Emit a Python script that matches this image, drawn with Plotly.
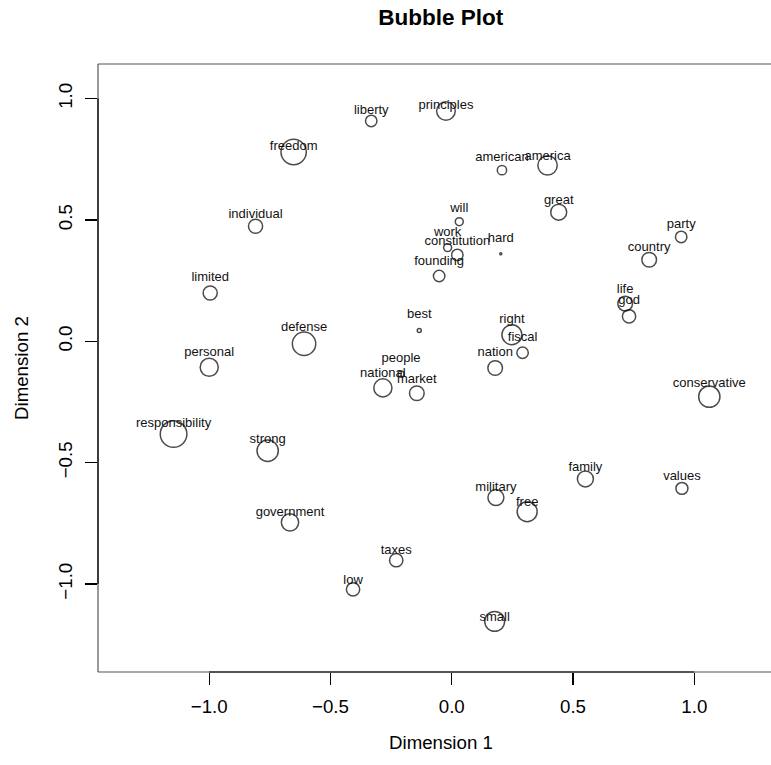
import plotly.graph_objects as go

words = ["liberty", "freedom", "individual", "limited", "defense", "personal", "best",
         "principles", "american", "america", "great", "will", "work", "constitution",
         "hard", "founding", "party", "country", "life", "god", "right", "fiscal",
         "nation", "national", "people", "market", "responsibility", "strong",
         "government", "taxes", "low", "conservative", "family", "values", "military",
         "free", "small"]

dim1 = [-0.332, -0.652, -0.809, -0.996, -0.609, -1.000, -0.134,
        -0.024, 0.207, 0.395, 0.441, 0.031, -0.017, 0.023,
        0.202, -0.052, 0.946, 0.814, 0.715, 0.731, 0.248, 0.292,
        0.179, -0.284, -0.209, -0.144, -1.147, -0.759,
        -0.667, -0.229, -0.407, 1.062, 0.551, 0.949, 0.182,
        0.311, 0.177]

dim2 = [0.908, 0.780, 0.474, 0.199, -0.010, -0.107, 0.045,
        0.949, 0.705, 0.725, 0.532, 0.493, 0.386, 0.356,
        0.361, 0.269, 0.430, 0.336, 0.155, 0.103, 0.027, -0.047,
        -0.110, -0.192, -0.135, -0.214, -0.382, -0.451,
        -0.746, -0.902, -1.022, -0.228, -0.567, -0.606, -0.644,
        -0.702, -1.154]

# label anchor heights (Dimension 2 units)
label_dim2 = [0.949, 0.801, 0.522, 0.261, 0.056, -0.047, 0.110,
              0.972, 0.756, 0.759, 0.578, 0.545, 0.446, 0.412,
              0.422, 0.326, 0.482, 0.387, 0.213, 0.166, 0.089, 0.014,
              -0.047, -0.135, -0.073, -0.158, -0.338, -0.407,
              -0.707, -0.864, -0.986, -0.173, -0.521, -0.558, -0.603,
              -0.667, -1.139]

# relative bubble radius (largest = 1)
rel_radius = [0.43, 0.95, 0.53, 0.53, 0.88, 0.68, 0.15,
              0.70, 0.35, 0.73, 0.60, 0.30, 0.30, 0.43,
              0.08, 0.43, 0.43, 0.55, 0.55, 0.50, 0.75, 0.43,
              0.55, 0.68, 0.23, 0.55, 1.00, 0.80,
              0.65, 0.50, 0.50, 0.80, 0.60, 0.45, 0.60,
              0.75, 0.75]

tick_vals = [-1.0, -0.5, 0.0, 0.5, 1.0]
tick_text = ["\u22121.0", "\u22120.5", "0.0", "0.5", "1.0"]

MAX_R_PX = 13.3
FONT = "Liberation Sans, Arial, Helvetica, sans-serif"

fig = go.Figure()
fig.add_trace(go.Scatter(
    x=dim1, y=dim2, mode="markers",
    marker=dict(size=[2 * r * MAX_R_PX for r in rel_radius],
                color="rgba(0,0,0,0)",
                line=dict(color="black", width=1.5)),
    hoverinfo="skip", showlegend=False, cliponaxis=False))
fig.add_trace(go.Scatter(
    x=dim1, y=label_dim2, mode="text", text=words,
    textposition="middle center",
    textfont=dict(family=FONT, size=13, color="#111111"),
    hoverinfo="skip", showlegend=False, cliponaxis=False))

L, T, W, H = 98, 64, 771, 765
B = 672
plot_w = W - L
plot_h = B - T

def px_x(p):
    return (p - L) / plot_w

def px_y(p):
    return (B - p) / plot_h

box_line = dict(color="#555555", width=1.2)
shapes = [
    # frame (its right side lies beyond the visible area)
    dict(type="line", xref="paper", yref="paper", x0=0, x1=0, y0=0, y1=1, line=box_line),
    dict(type="line", xref="paper", yref="paper", x0=0, x1=1, y0=1, y1=1, line=box_line),
    dict(type="line", xref="paper", yref="paper", x0=0, x1=1, y0=0, y1=0, line=box_line),
    # axis lines between the outer ticks
    dict(type="line", xref="x", yref="paper", x0=tick_vals[0], x1=tick_vals[-1],
         y0=0, y1=0, line=dict(color="black", width=1.2)),
    dict(type="line", xref="paper", yref="y", x0=0, x1=0,
         y0=tick_vals[0], y1=tick_vals[-1], line=dict(color="black", width=1.2)),
]

annotations = [
    dict(text="Dimension 1", xref="paper", yref="paper", x=px_x(440.7), y=px_y(742),
         xanchor="center", yanchor="middle", showarrow=False,
         font=dict(family=FONT, size=18.7, color="black")),
    dict(text="Dimension 2", xref="paper", yref="paper", x=px_x(21), y=px_y(368),
         xanchor="center", yanchor="middle", showarrow=False, textangle=-90,
         font=dict(family=FONT, size=18.7, color="black")),
]

fig.update_layout(
    width=W, height=H,
    margin=dict(l=L, r=0, t=T, b=H - B, pad=0),
    paper_bgcolor="white", plot_bgcolor="white",
    title=dict(text="<b>Bubble Plot</b>", xref="container", yref="container",
               x=440.7 / W, y=1 - 17 / H, xanchor="center", yanchor="middle",
               font=dict(family=FONT, size=22.5, color="black")),
    xaxis=dict(range=[-1.4586, 1.3163], showgrid=False, zeroline=False, showline=False,
               tickmode="array", tickvals=tick_vals, ticktext=tick_text,
               ticks="outside", ticklen=12, tickwidth=1.2, tickcolor="black",
               ticklabelstandoff=6,
               tickfont=dict(family=FONT, size=18.7, color="black")),
    yaxis=dict(range=[-1.3626, 1.1426], showgrid=False, zeroline=False, showline=False,
               tickmode="array", tickvals=tick_vals, ticktext=tick_text,
               ticks="outside", ticklen=12, tickwidth=1.2, tickcolor="black",
               tickangle=-90, ticklabelstandoff=6,
               tickfont=dict(family=FONT, size=18.7, color="black")),
    shapes=shapes, annotations=annotations,
    font=dict(family=FONT),
    hovermode=False,
)

fig.write_html(
    "out.html",
    config={"displayModeBar": False, "staticPlot": True},
    post_script="document.body.style.margin='0';document.body.style.overflow='hidden';",
)
